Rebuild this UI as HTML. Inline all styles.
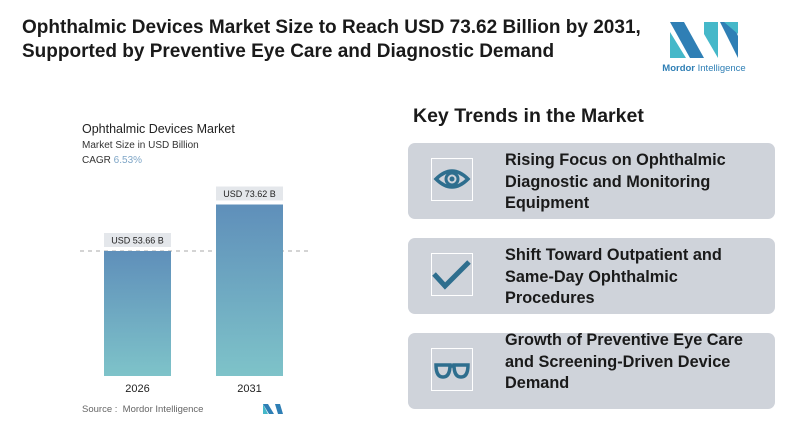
<!DOCTYPE html>
<html><head><meta charset="utf-8"><style>
body{margin:0;width:800px;height:437px;background:#fff;font-family:"Liberation Sans",sans-serif;position:relative;overflow:hidden}
.abs{position:absolute}
.title{left:22px;top:16px;font-size:19px;font-weight:bold;color:#1a1a1a;line-height:24px}
.card{left:408px;width:367px;height:76px;background:#cfd3da;border-radius:7px}
.icon{left:23px;top:15px;width:42px;height:43px;border:1.5px solid #fff;box-sizing:border-box}
.ctext{left:97px;font-size:16.3px;font-weight:bold;color:#1a1a1a;line-height:21.5px}
</style></head><body>
<div class="abs title">Ophthalmic Devices Market Size to Reach USD 73.62 Billion by 2031,<br>Supported by Preventive Eye Care and Diagnostic Demand</div>
<svg class="abs" style="left:660px;top:18px" width="90" height="58">
<polygon points="10,4 24,4 44,40 30,40" fill="#2f7fb5"/><polygon points="10,4 10,40 26,40 10,14" fill="#45b8c9"/>
<polygon points="44,4 58,4 58,40 44,16" fill="#45b8c9"/><polygon points="60,4 72,4 78,18 78,40" fill="#2f7fb5"/><polygon points="64,4 78,4 78,16" fill="#45b8c9"/>
<text x="44" y="53" font-size="9.5" text-anchor="middle" fill="#2f7fb5" font-family="Liberation Sans"><tspan font-weight="bold">Mordor</tspan> Intelligence</text></svg>
<div class="abs" style="left:82px;top:122px;font-size:12.5px;color:#222">Ophthalmic Devices Market</div>
<div class="abs" style="left:82px;top:140px;font-size:10px;color:#333">Market Size in USD Billion</div>
<div class="abs" style="left:82px;top:155px;font-size:10px;color:#333">CAGR <span style="color:#7fa6c7">6.53%</span></div>
<svg class="abs" style="left:0;top:0" width="400" height="437" id="chart">
<defs><linearGradient id="g" x1="0" y1="0" x2="0" y2="1"><stop offset="0" stop-color="#5f8fba"/><stop offset="1" stop-color="#7ec3c9"/></linearGradient></defs>
</svg>
<div class="abs" style="left:82px;top:404px;font-size:9.5px;color:#666">Source :&nbsp; Mordor Intelligence</div>
<svg class="abs" style="left:262px;top:403px" width="22" height="12"><polygon points="1,1 6,1 12,11 7,11" fill="#2f7fb5"/><polygon points="1,1 1,11 6,11" fill="#45b8c9"/><polygon points="13,1 18,1 21,11 16,11" fill="#2f7fb5"/></svg>
<div class="abs" style="left:413px;top:105px;font-size:19.5px;font-weight:bold;color:#1a1a1a">Key Trends in the Market</div>
<div class="abs card" style="top:143px">
<div class="abs icon"><svg width="40" height="40"><path d="M4,20 Q20,4 36,20 Q20,36 4,20Z" fill="none" stroke="#2e6e8e" stroke-width="3.5"/><circle cx="20" cy="20" r="6" fill="none" stroke="#2e6e8e" stroke-width="3"/><circle cx="20" cy="20" r="2.5" fill="#2e6e8e"/></svg></div>
<div class="abs ctext" style="top:7px">Rising Focus on Ophthalmic<br>Diagnostic and Monitoring<br>Equipment</div></div>
<div class="abs card" style="top:238px">
<div class="abs icon"><svg width="40" height="40"><polyline points="2,20 13,32 37,8" fill="none" stroke="#2e6e8e" stroke-width="5"/></svg></div>
<div class="abs ctext" style="top:7px">Shift Toward Outpatient and<br>Same-Day Ophthalmic<br>Procedures</div></div>
<div class="abs card" style="top:333px">
<div class="abs icon"><svg width="40" height="40"><path d="M4,16 H18 Q18,28 11,28 Q4,28 4,16Z M22,16 H36 Q36,28 29,28 Q22,28 22,16Z M18,17 H22" fill="none" stroke="#2e6e8e" stroke-width="3.5"/></svg></div>
<div class="abs ctext" style="top:-3px">Growth of Preventive Eye Care<br>and Screening-Driven Device<br>Demand</div></div>
<script>
const categories=["2026","2031"];
const values=[53.66,73.62];
const valueLabels=["USD 53.66 B","USD 73.62 B"];
const svg=document.getElementById('chart');const NS='http://www.w3.org/2000/svg';
const base=376,scale=125/53.66,barW=67;
const xPos=i=>104+i*112;const yPos=v=>base-v*scale;
function mk(t,a){const e=document.createElementNS(NS,t);for(const k in a)e.setAttribute(k,a[k]);svg.appendChild(e);return e;}
const dl=mk('line',{x1:80,x2:310,y1:yPos(values[0]),y2:yPos(values[0]),stroke:'#aaa','stroke-dasharray':'4,4'});


values.forEach((v,i)=>{
const r=mk('rect',{x:xPos(i),y:yPos(v),width:barW,height:base-yPos(v),fill:'url(#g)'});


const lb=mk('rect',{x:xPos(i),y:yPos(v)-18,width:barW,height:14,fill:'#e4e7eb'});


const t=mk('text',{x:xPos(i)+barW/2,y:yPos(v)-7.5,'text-anchor':'middle','font-size':'9',fill:'#222'});
t.textContent=valueLabels[i];


const c=mk('text',{x:xPos(i)+barW/2,y:392,'text-anchor':'middle','font-size':'11',fill:'#222'});
c.textContent=categories[i];


});
</script>
</body></html>
